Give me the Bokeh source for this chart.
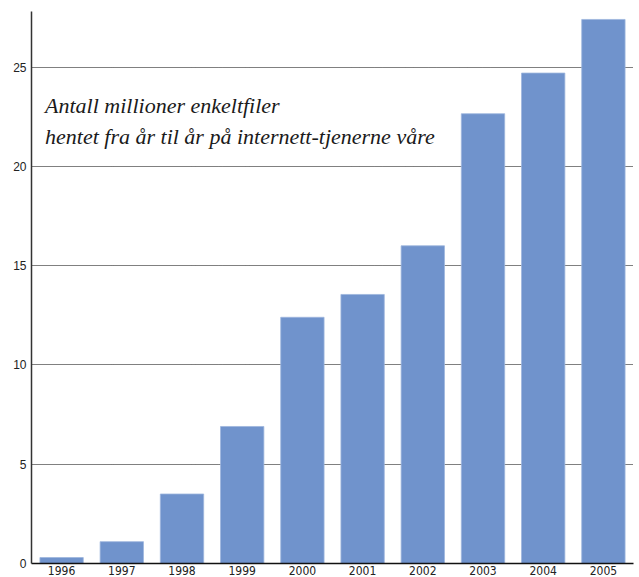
from bokeh.plotting import figure
from bokeh.models import Label, FixedTicker, Range1d, ColumnDataSource
from bokeh.embed import file_html
from bokeh.resources import INLINE

years = ["1996", "1997", "1998", "1999", "2000", "2001", "2002", "2003", "2004", "2005"]
values = [0.3, 1.1, 3.5, 6.9, 12.4, 13.55, 16.0, 22.65, 24.7, 27.4]
y_ticks = [0, 5, 10, 15, 20, 25]
title_lines = ["Antall millioner enkeltfiler",
               "hentet fra år til år på internett-tjenerne våre"]

xs = [i + 0.5 for i in range(len(years))]
src = ColumnDataSource(dict(x=xs, top=values))

p = figure(width=639, height=577, output_backend="svg", toolbar_location=None,
           x_range=Range1d(0, len(years)), y_range=Range1d(0, 27.8))
p.min_border_left = 31
p.min_border_right = 6
p.min_border_top = 11
p.min_border_bottom = 0
p.outline_line_color = None
p.background_fill_color = "white"

p.vbar(x="x", top="top", width=0.72, source=src, fill_color="#7093CC",
       line_color="#9DB5DD", line_width=0.8)

# axes
p.xaxis.ticker = FixedTicker(ticks=xs)
p.xaxis.major_label_overrides = {x: y for x, y in zip(xs, years)}
p.xaxis.major_tick_line_color = None
p.xaxis.major_tick_out = 0
p.xaxis.major_tick_in = 0
p.xaxis.minor_tick_line_color = None
p.xaxis.axis_line_color = "#111111"
p.xaxis.axis_line_width = 1.5
p.xaxis.major_label_text_font = "DejaVu Sans Condensed, Liberation Sans Narrow, sans-serif"
p.xaxis.major_label_text_font_size = "12px"
p.xaxis.major_label_text_color = "#222222"
p.xaxis.major_label_standoff = 2

p.yaxis.ticker = FixedTicker(ticks=y_ticks)
p.yaxis.major_tick_line_color = None
p.yaxis.major_tick_out = 0
p.yaxis.major_tick_in = 0
p.yaxis.minor_tick_line_color = None
p.yaxis.axis_line_color = "#333333"
p.yaxis.axis_line_width = 1.5
p.yaxis.major_label_text_font = "Liberation Sans, Arial, sans-serif"
p.yaxis.major_label_text_font_size = "12px"
p.yaxis.major_label_text_color = "#222222"
p.yaxis.major_label_standoff = 5

p.xgrid.grid_line_color = None
p.ygrid.ticker = FixedTicker(ticks=y_ticks[1:])
p.ygrid.grid_line_color = "#000000"
p.ygrid.grid_line_dash = "1 1"
p.ygrid.grid_line_width = 1

for i, line in enumerate(title_lines):
    p.add_layout(Label(x=0.225, y=23.07 - i * 1.56, text=line,
                       text_font="Liberation Serif, serif", text_font_style="italic",
                       text_font_size="22px", text_color="#1a1a1a",
                       text_baseline="alphabetic"))

open("out.html", "w").write(file_html(p, INLINE))
